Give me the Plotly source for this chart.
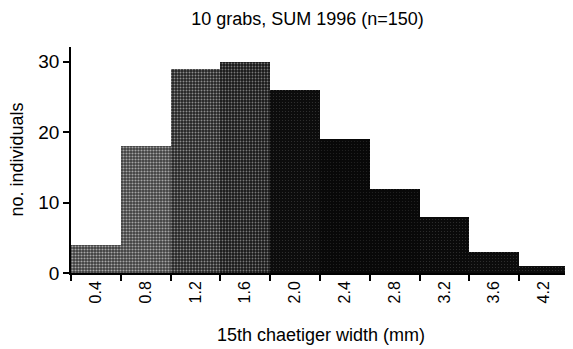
import plotly.graph_objects as go

# data
categories = ["0.4", "0.8", "1.2", "1.6", "2.0", "2.4", "2.8", "3.2", "3.6", "4.2"]
counts = [4, 18, 29, 30, 26, 19, 12, 8, 3, 1]

title_text = "10 grabs, SUM 1996 (n=150)"
x_title = "15th chaetiger width (mm)"
y_title = "no. individuals"
y_ticks = [0, 10, 20, 30]

# styling (approximate scanned textures)
bg_colors = ["#3c3c3c", "#3e3e3e", "#222222", "#181818", "#0c0c0c",
             "#080808", "#080808", "#0a0a0a", "#0c0c0c", "#0c0c0c"]
fg_colors = ["#a8a8a8", "#a4a4a4", "#8c8c8c", "#787878", "#333333",
             "#262626", "#262626", "#303030", "#333333", "#333333"]
solid = [0.4, 0.4, 0.35, 0.3, 0.12, 0.1, 0.1, 0.12, 0.12, 0.12]

FONT = "Liberation Sans, Arial, sans-serif"

# page body has an 8px offset; the figure is placed accordingly
OFF = 8
W, H = 573 - OFF, 349 - OFF

fig = go.Figure()
for i, (cat, val) in enumerate(zip(categories, counts)):
    fig.add_trace(go.Bar(
        x=[cat], y=[val],
        marker=dict(
            color=bg_colors[i],
            line=dict(width=0),
            pattern=dict(shape=".", fgcolor=fg_colors[i], bgcolor=bg_colors[i],
                         solidity=solid[i], size=3, fillmode="replace"),
        ),
        showlegend=False,
    ))

fig.update_layout(
    width=W, height=H,
    margin=dict(l=71 - OFF, r=4, t=47 - OFF, b=76),
    paper_bgcolor="white", plot_bgcolor="white",
    bargap=0, barmode="overlay",
    font=dict(family=FONT, color="#000000", size=18),
    title=dict(text=title_text, x=(307.5 - OFF) / W, xanchor="center",
               y=1 - (19 - OFF) / H, yanchor="middle",
               font=dict(family=FONT, size=18, color="#000000")),
    xaxis=dict(
        type="category", categoryorder="array", categoryarray=categories,
        tickson="boundaries", ticks="outside", ticklen=6,
        tickwidth=1.5, tickcolor="#000", showline=True, linecolor="#000",
        linewidth=1.5, tickangle=-90, showgrid=False, zeroline=False,
        tickfont=dict(family=FONT, size=16, color="#000"),
        range=[-0.5, 9.5],
    ),
    yaxis=dict(
        range=[0, 32.1], tickvals=y_ticks, ticks="outside", ticklen=6,
        tickwidth=1.5, tickcolor="#000", showline=True, linecolor="#000",
        linewidth=1.5, showgrid=False, zeroline=False,
        tickfont=dict(family=FONT, size=19, color="#000"),
    ),
    yaxis2=dict(
        overlaying="y", side="left", range=[0, 32.1], tickvals=y_ticks,
        ticks="inside", ticklen=6, tickwidth=1.5, tickcolor="#000",
        showticklabels=False, showgrid=False, zeroline=False, showline=False,
    ),
    annotations=[
        dict(text=x_title, xref="paper", yref="paper",
             x=(320.5 - 71) / 498, y=-(335 - 273) / 226,
             xanchor="center", yanchor="middle", showarrow=False,
             font=dict(family=FONT, size=18, color="#000")),
        dict(text=y_title, xref="paper", yref="paper",
             x=(16.5 - 71) / 498, y=(273 - 160) / 226, textangle=-90,
             xanchor="center", yanchor="middle", showarrow=False,
             font=dict(family=FONT, size=18, color="#000")),
    ],
)

fig.write_html("out.html")
